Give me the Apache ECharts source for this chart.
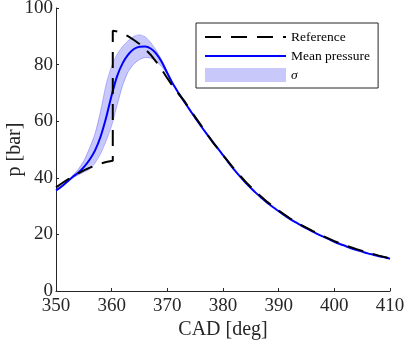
<!DOCTYPE html>
<html>
<head>
<meta charset="utf-8">
<script src="https://cdn.jsdelivr.net/npm/echarts@6/dist/echarts.min.js"></script>
<style>html,body{margin:0;padding:0;background:#fff}#c{width:404px;height:346px}</style>
</head>
<body>
<div id="c"></div>
<script>
// CAD grid for mean pressure and sigma band
var cad = [350,351,352,353,354,355,356,357,358,359,360,361,362,363,364,365,366,367,368,369,370,371,372,373,374,375,376,377,378,379,380,381,382,383,384,385,386,387,388,389,390,391,392,393,394,395,396,397,398,399,400,401,402,403,404,405,406,407,408,409,410];
var meanP = [35.5,36.9,38.6,40.3,41.8,43.8,46.3,49.6,54.5,61.2,69.2,76.0,80.6,83.6,85.5,86.3,86.4,85.7,83.9,80.9,77.0,73.2,70.0,67.0,64.1,61.2,58.4,55.7,53.1,50.6,48.0,45.4,42.9,40.6,38.4,36.4,34.5,32.8,31.1,29.6,28.2,26.8,25.5,24.3,23.2,22.1,21.1,20.1,19.2,18.3,17.4,16.6,15.9,15.1,14.5,13.9,13.3,12.8,12.3,11.9,11.4];
var sigmaUpper = [35.7,37.1,38.9,40.8,43.0,46.0,50.4,55.5,63.5,73.0,79.5,83.7,86.5,88.5,90.0,90.5,89.8,87.8,85.0,81.6,77.4,73.4,70.1,67.0,64.1,61.2,58.4,55.7,53.1,50.6,48.0,45.4,42.9,40.6,38.4,36.4,34.5,32.8,31.1,29.6,28.2,26.8,25.5,24.3,23.2,22.1,21.1,20.1,19.2,18.3,17.4,16.6,15.9,15.1,14.5,13.9,13.3,12.8,12.3,11.9,11.4];
var sigmaLower = [35.3,36.7,38.3,40.0,41.0,42.0,43.0,45.2,48.5,53.0,58.5,65.8,72.8,77.6,80.2,81.8,82.5,82.3,81.2,79.3,76.5,72.9,69.9,67.0,64.1,61.2,58.4,55.7,53.1,50.6,48.0,45.4,42.9,40.6,38.4,36.4,34.5,32.8,31.1,29.6,28.2,26.8,25.5,24.3,23.2,22.1,21.1,20.1,19.2,18.3,17.4,16.6,15.9,15.1,14.5,13.9,13.3,12.8,12.3,11.9,11.4];
// Reference curve
var refX = [350,351,352,353,354,355,356,357,358,359,360.2,360.2,361,362,363,364,365,366,367,368,369,370,371,372,373,374,376,378,380,382,384,386,388,390,392,394,396,398,400,402,404,406,408,410];
var refP = [36.6,38.0,39.3,40.5,41.6,42.6,43.5,44.3,45.0,45.6,46.0,92.0,91.7,91.0,90.0,88.7,87.3,85.5,83.5,81.0,78.2,75.2,72.3,69.7,67.3,64.3,58.7,53.0,48.0,43.2,38.7,34.8,31.4,28.4,25.7,23.4,21.3,19.4,17.6,16.1,14.8,13.6,12.5,11.5];
var xTicks = [350,360,370,380,390,400,410];
var yTicks = [0,20,40,60,80,100];

var FONT = 'Liberation Serif';
var AX = '#262626';
var BAND = '#c8c8fa';

function pairs(xs, ys){ return xs.map(function(x,i){ return [x, ys[i]]; }); }
var bandData = cad.map(function(x,i){ return [x, sigmaLower[i], sigmaUpper[i]]; });

function renderBand(params, api){
  if (params.dataIndex !== 0) return null;
  var up = [], lo = [];
  for (var i = 0; i < bandData.length; i++) {
    up.push(api.coord([bandData[i][0], bandData[i][2]]));
    lo.push(api.coord([bandData[i][0], bandData[i][1]]));
  }
  var poly = up.concat(lo.slice().reverse());
  var edge = {stroke:'rgba(70,70,255,0.45)', lineWidth:0.8, fill:null};
  return {
    type:'group',
    children:[
      {type:'polygon', shape:{points:poly}, style:{fill:BAND}, silent:true},
      {type:'polyline', shape:{points:up, smooth:0.3}, style:edge, silent:true},
      {type:'polyline', shape:{points:lo, smooth:0.3}, style:edge, silent:true}
    ]
  };
}

var chart = echarts.init(document.getElementById('c'), null, {renderer:'canvas'});
chart.setOption({
  animation: false,
  backgroundColor: '#fff',
  grid: {left:56, right:14, top:8, bottom:55, containLabel:false, outerBoundsMode:'none'},
  xAxis: {
    type:'value', min:xTicks[0], max:xTicks[xTicks.length-1], interval:10,
    name:'CAD [deg]', nameLocation:'middle', nameGap:29, nameMoveOverlap:false,
    nameTextStyle:{fontFamily:FONT, fontSize:20, color:AX},
    axisLine:{show:true, lineStyle:{color:AX, width:1}},
    axisTick:{show:true, inside:true, length:3, lineStyle:{color:AX}},
    axisLabel:{fontFamily:FONT, fontSize:19, color:AX, margin:6, hideOverlap:false},
    splitLine:{show:false}
  },
  yAxis: {
    type:'value', min:yTicks[0], max:yTicks[yTicks.length-1], interval:20,
    name:'p [bar]', nameLocation:'middle', nameGap:31, nameRotate:90, nameMoveOverlap:false,
    nameTextStyle:{fontFamily:FONT, fontSize:20, color:AX},
    axisLine:{show:true, lineStyle:{color:AX, width:1}},
    axisTick:{show:true, inside:true, length:3, lineStyle:{color:AX}},
    axisLabel:{fontFamily:FONT, fontSize:19, color:AX, margin:3},
    splitLine:{show:false}
  },
  legend: {
    left:196, top:23, orient:'vertical',
    padding:[7,8,6,8], itemGap:5, itemWidth:81, itemHeight:14,
    borderColor:AX, borderWidth:1, backgroundColor:'#fff',
    textStyle:{fontFamily:FONT, fontSize:13.5, color:'#000', rich:{it:{fontFamily:FONT, fontSize:13.5, fontStyle:'italic', color:'#000'}}},
    formatter:function(n){ return n === 'σ' ? '{it|σ}' : n; },
    data:[
      {name:'Reference', itemStyle:{opacity:0}},
      {name:'Mean pressure', itemStyle:{opacity:0}},
      {name:'σ', icon:'rect', itemStyle:{color:BAND, borderWidth:0, opacity:1}}
    ]
  },
  series: [
    {name:'σ', type:'custom', data:bandData, renderItem:renderBand, silent:true,
     encode:{x:0, y:[1,2]}, itemStyle:{color:BAND}, clip:true, z:1},
    {name:'Mean pressure', type:'line', data:pairs(cad, meanP), symbol:'none', smooth:0.3,
     lineStyle:{color:'#0000ff', width:2}, itemStyle:{color:'#0000ff'}, z:3},
    {name:'Reference', type:'line', data:pairs(refX, refP), symbol:'none',
     lineStyle:{color:'#000', width:2, type:[16,10]}, itemStyle:{color:'#000'}, z:4}
  ]
});
</script>
</body>
</html>
